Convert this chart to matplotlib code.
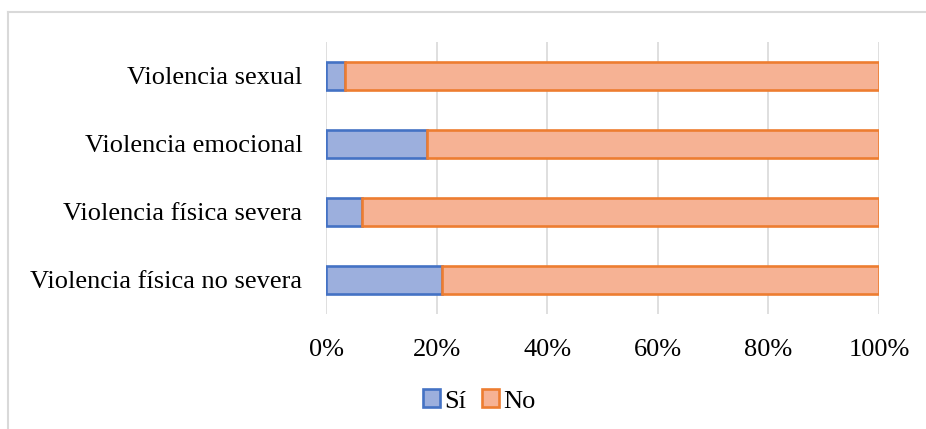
import matplotlib
matplotlib.use("Agg")
import matplotlib.pyplot as plt
from matplotlib.ticker import FuncFormatter

categories = ["Violencia física no severa", "Violencia física severa",
              "Violencia emocional", "Violencia sexual"]
si_values = [20.9, 6.5, 18.3, 3.4]
no_values = [79.1, 93.5, 81.7, 96.6]
series_names = ["Sí", "No"]
x_ticks = [0, 20, 40, 60, 80, 100]

plt.rcParams["font.family"] = ["Liberation Serif", "DejaVu Serif"]

fig = plt.figure(figsize=(9.26, 4.29), dpi=100)
W, H = 926, 429
ax = fig.add_axes([326 / W, 1 - 314 / H, (879 - 326) / W, (314 - 42) / H])

# chart border (left and top edges visible)
fig.add_artist(plt.Line2D([8 / W, 8 / W], [0, 1 - 12 / H], color="#d9d9d9", lw=1.5))
fig.add_artist(plt.Line2D([8 / W, 1], [1 - 12 / H, 1 - 12 / H], color="#d9d9d9", lw=1.5))

y = list(range(len(categories)))
blue_fill, blue_edge = "#9cafdd", "#4472c4"
orange_fill, orange_edge = "#f6b294", "#ed7d31"

ax.barh(y, si_values, height=0.4, color=blue_fill, edgecolor=blue_edge, lw=1.9,
        label=series_names[0], zorder=3)
ax.barh(y, no_values, left=si_values, height=0.4, color=orange_fill,
        edgecolor=orange_edge, lw=1.9, label=series_names[1], zorder=3)

ax.set_xlim(0, 100)
ax.set_ylim(-0.5, len(categories) - 0.5)
ax.set_xticks(x_ticks)
ax.xaxis.set_major_formatter(FuncFormatter(lambda v, p: f"{v:.0f}%"))
ax.set_yticks(y)
ax.set_yticklabels(categories)
ax.grid(axis="x", color="#d9d9d9", lw=1.2, zorder=0)
for s in ax.spines.values():
    s.set_visible(False)
ax.tick_params(axis="both", length=0, labelsize=19, colors="black")
ax.tick_params(axis="x", pad=18)
ax.tick_params(axis="y", pad=17)

ax.legend(loc="center", bbox_to_anchor=(479 / W, 1 - 401 / H),
          bbox_transform=fig.transFigure, ncol=2, frameon=False,
          fontsize=19, handlelength=0.65, handleheight=0.65,
          handletextpad=0.15, columnspacing=0.6)

fig.savefig("out.png", dpi=100, facecolor="white")
